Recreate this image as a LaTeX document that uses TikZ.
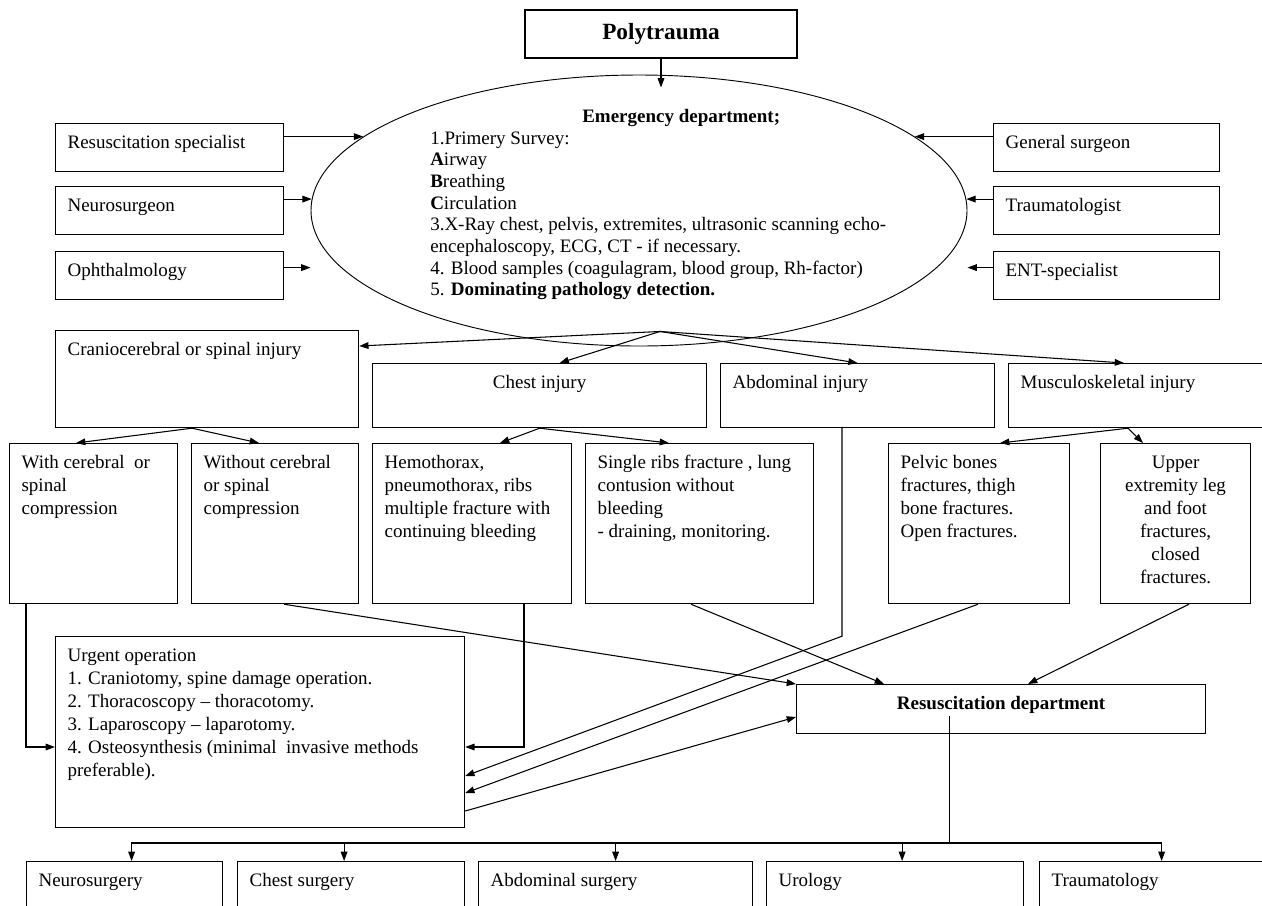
\documentclass[tikz,border=0pt]{standalone}
\usepackage{fontspec}
\setmainfont{Liberation Serif}
\usetikzlibrary{arrows.meta,calc,shapes.geometric}

\newlength{\unitpx}
\setlength{\unitpx}{0.75bp}
\newcommand{\boxfont}{\fontsize{14.3}{17.3}\selectfont}

% text set at the top of a box of given width and height (px)
\newcommand{\topbox}[4][l]{%
  \parbox[c][\dimexpr#3\unitpx-18\unitpx\relax][t]{\dimexpr#2\unitpx-24\unitpx\relax}{%
    \ifx c#1\centering\fi
    \begin{tabular}[t]{@{}#1@{}}#4\end{tabular}}}

\begin{document}
\begin{tikzpicture}[x=0.75bp, y=-0.75bp,
    every node/.style={font=\boxfont},
    block/.style={draw, line width=0.9pt, anchor=north west, inner xsep=12\unitpx, inner ysep=9\unitpx},
    arrow/.style={-{Triangle[length=7pt,width=5pt]}, line width=0.8pt},
    link/.style={line width=0.8pt},
  ]
  \useasboundingbox (0,0) rectangle (1262,905);

  \node[block, anchor=center, minimum width=272\unitpx, minimum height=48\unitpx,
    font=\fontsize{17.5}{20}\selectfont\bfseries] (poly) at (661,34) {Polytrauma};

  \node[draw, ellipse, line width=0.7pt, minimum width=656\unitpx, minimum height=271\unitpx] (emerg) at (639,210.5) {};
  \node[anchor=north west, align=left, inner sep=0pt, font=\fontsize{14.3}{16.3}\selectfont] (emergtext) at (430,109)
    {\hspace*{152\unitpx}\textbf{Emergency department;}\\
     1.Primery Survey:\\
     \textbf{A}irway\\
     \textbf{B}reathing\\
     \textbf{C}irculation\\
     3.X-Ray chest, pelvis, extremites, ultrasonic scanning echo-\\
     encephaloscopy, ECG, CT - if necessary.\\
     4. Blood samples (coagulagram, blood group, Rh-factor)\\
     5. \textbf{Dominating pathology detection.}};

  % specialists
  \node[block] (resus) at (55,123) {\topbox{228}{48}{Resuscitation specialist}};
  \node[block] (neuro) at (55,186) {\topbox{228}{48}{Neurosurgeon}};
  \node[block] (oph) at (55,251) {\topbox{228}{48}{Ophthalmology}};
  \node[block] (gensurg) at (993,123) {\topbox{226}{48}{General surgeon}};
  \node[block] (traumat) at (993,186) {\topbox{226}{48}{Traumatologist}};
  \node[block] (ent) at (993,251) {\topbox{226}{48}{ENT-specialist}};

  % injuries
  \node[block] (cranio) at (55,330) {\topbox{303}{97}{Craniocerebral or spinal injury}};
  \node[block] (chest) at (372,363) {\topbox[c]{334}{64}{Chest injury}};
  \node[block] (abdom) at (720,363) {\topbox{274}{64}{Abdominal injury}};
  \node[block] (musculo) at (1008,363) {\topbox{290}{64}{Musculoskeletal injury}};

  \node[block] (withcomp) at (9,443) {\topbox{168}{160}{With cerebral\ \ or\\ spinal\\ compression}};
  \node[block] (withoutcomp) at (191,443) {\topbox{167}{160}{Without cerebral\\ or spinal\\ compression}};
  \node[block] (hemo) at (372,443) {\topbox{199}{160}{Hemothorax,\\ pneumothorax, ribs\\ multiple fracture with\\ continuing bleeding}};
  \node[block] (ribs) at (585,443) {\topbox{228}{160}{Single ribs fracture , lung\\ contusion without\\ bleeding\\ - draining, monitoring.}};
  \node[block] (pelvic) at (888,443) {\topbox{181}{160}{Pelvic bones\\ fractures, thigh\\ bone fractures.\\ Open fractures.}};
  \node[block] (upper) at (1100,443) {\topbox[c]{150}{160}{Upper\\ extremity leg\\ and foot\\ fractures,\\ closed\\ fractures.}};

  \node[block] (urgent) at (55,636) {\topbox{409}{191}{Urgent operation\\
    1. Craniotomy, spine damage operation.\\
    2. Thoracoscopy -- thoracotomy.\\
    3. Laparoscopy -- laparotomy.\\
    4. Osteosynthesis (minimal\ \ invasive methods\\
    preferable).}};
  \node[block, font=\boxfont\bfseries] (resusdept) at (796,684) {\topbox[c]{409}{49}{Resuscitation department}};

  % departments
  \node[block] (neurosurg) at (26,861) {\topbox{196}{60}{Neurosurgery}};
  \node[block] (chestsurg) at (237,861) {\topbox{227}{60}{Chest surgery}};
  \node[block] (abdsurg) at (478,861) {\topbox{274}{60}{Abdominal surgery}};
  \node[block] (urology) at (766,861) {\topbox{257}{60}{Urology}};
  \node[block] (traumatology) at (1039,861) {\topbox{244}{60}{Traumatology}};

  \draw[arrow] (poly.south) -- ($(poly.south |- emerg.north)+(0,13)$);

  \draw[arrow] (resus.east |- emerg.165) -- (emerg.165);
  \draw[arrow] (neuro.east |- emerg.178) -- (emerg.178);
  \draw[arrow] ($(oph.east)+(0,-8)$) -- ($(oph.east -| emerg.west)+(0,-8)$);
  \draw[arrow] (gensurg.west |- emerg.15) -- (emerg.15);
  \draw[arrow] (traumat.west |- emerg.2) -- (emerg.2);
  \draw[arrow] ($(ent.west)+(0,-8)$) -- ($(ent.west -| emerg.east)+(0,-8)$);

  \coordinate (fan) at ($(emerg.south)+(21,-15)$);
  \draw[arrow] (fan) -- ($(cranio.north east)+(0,16)$);
  \draw[arrow] (fan) -- ($(chest.north)+(20,0)$);
  \draw[arrow] (fan) -- (abdom.north);
  \draw[arrow] (fan) -- ($(musculo.north west)+(116,0)$);

  \coordinate (craniofan) at ($(cranio.south west)+(137,0)$);
  \draw[arrow] (craniofan) -- ($(withcomp.north west)+(67,0)$);
  \draw[arrow] (craniofan) -- ($(withoutcomp.north west)+(68,0)$);
  \draw[arrow] (chest.south) -- ($(hemo.north west)+(128,0)$);
  \draw[arrow] (chest.south) -- ($(ribs.north west)+(84,0)$);
  \coordinate (muscfan) at ($(musculo.south west)+(120,0)$);
  \draw[arrow] (muscfan) -- ($(pelvic.north west)+(112,0)$);
  \draw[arrow] (muscfan) -- ($(upper.north west)+(43,0)$);

  % to urgent operation
  \draw[arrow] ($(withcomp.south west)+(17,0)$) |- ($(urgent.north west)+(0,111)$);
  \draw[arrow] ($(hemo.south west)+(152,0)$) |- ($(urgent.north east)+(0,111)$);
  \draw[arrow] ($(abdom.south west)+(122,0)$) -- ++(0,208) -- ($(urgent.north east)+(0,140)$);
  \draw[arrow] ($(pelvic.south west)+(90,0)$) -- ($(urgent.north east)+(0,157)$);

  % to resuscitation department
  \draw[arrow] ($(withoutcomp.south west)+(93,0)$) -- (resusdept.north west);
  \draw[arrow] ($(ribs.south west)+(106,0)$) -- ($(resusdept.north west)+(88,0)$);
  \draw[arrow] ($(upper.south west)+(89,0)$) -- ($(resusdept.north west)+(232,0)$);
  \draw[arrow] ($(urgent.north east)+(0,175)$) -- ($(resusdept.north west)+(0,33)$);

  \coordinate (split) at ($(resusdept.center)+(-52,7)$);
  \coordinate (bus) at ($(neurosurg.north)+(0,-18)$);
  \draw[link] (split) -- (split |- bus);
  \foreach \dept/\dx in {neurosurg/7, chestsurg/-7, abdsurg/0, urology/7, traumatology/0}
    \draw[arrow] (split |- bus) -| ($(\dept.north)+(\dx,0)$);
\end{tikzpicture}
\end{document}
